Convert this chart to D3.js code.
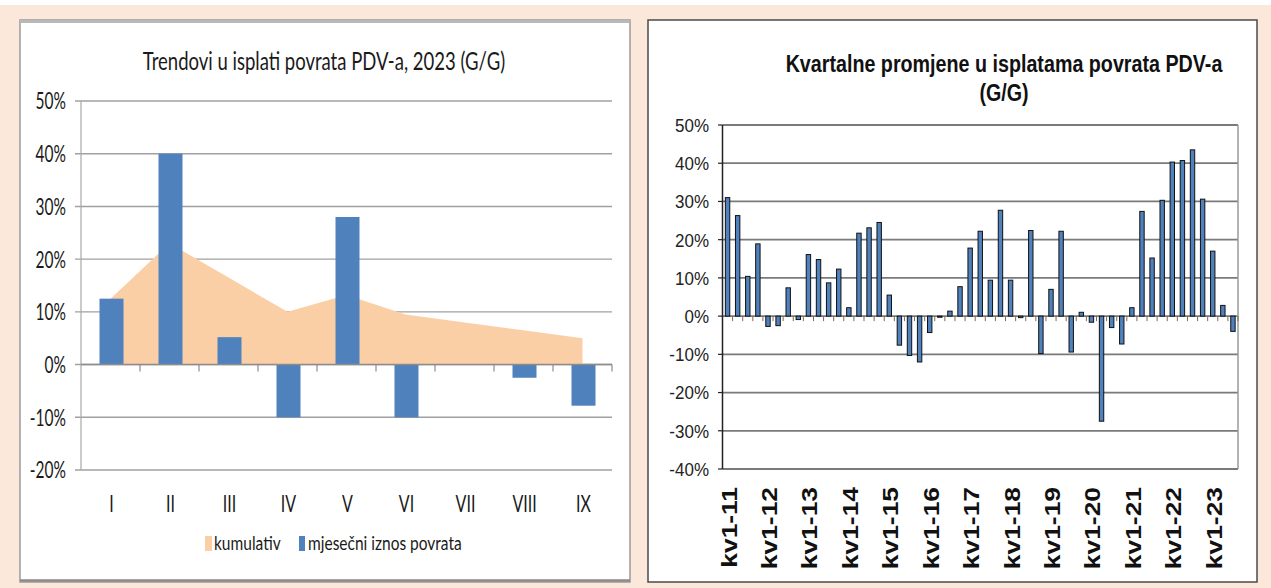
<!DOCTYPE html>
<html lang="hr">
<head>
<meta charset="UTF-8">
<title>Povrat PDV-a</title>
<style>
    body { margin: 0; background: #fce8da; }
    svg { display: block; }
</style>
</head>
<body>
<script src="https://d3js.org/d3.v7.min.js"></script>
<script>
    // lijevi grafikon: mjesecne promjene 2023 (G/G), u %
    const months = ["I", "II", "III", "IV", "V", "VI", "VII", "VIII", "IX"];
    const monthly = [12.5, 40, 5.2, -10, 28, -10, 0, -2.5, -7.8];
    const cumulative = [12.5, 23, 16.5, 10, 13.2, 9.5, 8, 6.5, 5];
    const leftTicks = [-20, -10, 0, 10, 20, 30, 40, 50];

    // desni grafikon: kvartalne promjene kv1-11 .. kv3-23, u %
    const yearLabels = ["kv1-11", "kv1-12", "kv1-13", "kv1-14", "kv1-15", "kv1-16", "kv1-17",
        "kv1-18", "kv1-19", "kv1-20", "kv1-21", "kv1-22", "kv1-23"];
    const quarterly = [31, 26.3, 10.4, 18.9, -2.7, -2.5, 7.4, -0.9, 16.1, 14.8, 8.7, 12.3,
        2.2, 21.7, 23.1, 24.5, 5.5, -7.6, -10.3, -12, -4.3, -0.3, 1.3, 7.7,
        17.8, 22.2, 9.4, 27.7, 9.4, -0.4, 22.4, -9.8, 7, 22.2, -9.4, 1,
        -1.6, -27.5, -3, -7.3, 2.2, 27.4, 15.2, 30.3, 40.3, 40.7, 43.5, 30.6,
        17, 2.8, -4];
    const rightTicks = [-40, -30, -20, -10, 0, 10, 20, 30, 40, 50];

    // kljucevi kvartala (kv1..kv4 po godini), samo koliko ima podataka
    let quarters = [];
    yearLabels.forEach(function (l) {
        let yy = l.slice(4);
        for (let q = 1; q <= 4; ++q) quarters.push("kv" + q + "-" + yy);
    });
    quarters = quarters.slice(0, quarterly.length);

    const W = 1271, H = 588;
    const blue = "#4f81bd", peach = "#fbcfa6";

    let svg = d3.select("body").append("svg")
        .attr("width", W)
        .attr("height", H);

    svg.append("rect").attr("width", W).attr("height", H).attr("fill", "#fce8da");
    svg.append("rect").attr("width", W).attr("height", 5).attr("fill", "#ffffff");

    // tekst koji je na slici malo razvucen po visini
    function txt(g, x, y, s, size, sy, opts) {
        opts = opts || {};
        return g.append("text")
            .attr("transform", "translate(" + x + "," + y + ") scale(1," + sy + ")")
            .attr("text-anchor", opts.anchor || "middle")
            .attr("dy", opts.dy || 0)
            .style("font-family", opts.font || "Lato, 'Open Sans', sans-serif")
            .style("font-size", size + "px")
            .style("font-weight", opts.weight || "normal")
            .attr("fill", opts.fill || "#1a1a1a")
            .text(s);
    }

    // ---------- lijevi panel ----------
    let left = svg.append("g");
    left.append("rect")
        .attr("x", 20).attr("y", 20).attr("width", 610).attr("height", 562)
        .attr("fill", "#ffffff")
        .attr("stroke", "#9a9a9a")
        .attr("stroke-width", 1.5);
    left.append("line").attr("x1", 20).attr("x2", 630).attr("y1", 21.5).attr("y2", 21.5)
        .attr("stroke", "#b8b8b8").attr("stroke-width", 3);
    left.append("line").attr("x1", 20).attr("x2", 630).attr("y1", 580.5).attr("y2", 580.5)
        .attr("stroke", "#8a8a8a").attr("stroke-width", 2.5);

    let x1 = d3.scaleBand().domain(months).range([81, 612]);
    let y1 = d3.scaleLinear().domain([-20, 50]).range([470, 101]);

    left.selectAll(".grid")
        .data(leftTicks)
        .enter()
        .append("line")
        .attr("x1", 75).attr("x2", 612)
        .attr("y1", d => y1(d)).attr("y2", d => y1(d))
        .attr("stroke", "#a0a0a0")
        .attr("stroke-width", 1.4);

    left.append("line")
        .attr("x1", 81).attr("x2", 81)
        .attr("y1", y1(50)).attr("y2", y1(-20))
        .attr("stroke", "#a8a8a8").attr("stroke-width", 1.2);

    let area = d3.area()
        .x(d => x1(d.m) + x1.bandwidth() / 2)
        .y0(y1(0))
        .y1(d => y1(d.v));
    left.append("path")
        .datum(months.map((m, i) => ({m: m, v: cumulative[i]})))
        .attr("d", area)
        .attr("fill", peach);

    left.selectAll(".bar")
        .data(months.map((m, i) => ({m: m, v: monthly[i]})).filter(d => d.v !== 0))
        .enter()
        .append("rect")
        .attr("x", d => x1(d.m) + x1.bandwidth() / 2 - 11)
        .attr("width", 24)
        .attr("y", d => y1(Math.max(0, d.v)))
        .attr("height", d => Math.abs(y1(d.v) - y1(0)))
        .attr("fill", blue);

    // os x na nuli s crticama
    left.append("line")
        .attr("x1", 81).attr("x2", 612)
        .attr("y1", y1(0)).attr("y2", y1(0))
        .attr("stroke", "#8c8c8c").attr("stroke-width", 1.4);
    left.selectAll(".tick")
        .data(months)
        .enter()
        .append("line")
        .attr("x1", d => x1(d) + x1.bandwidth()).attr("x2", d => x1(d) + x1.bandwidth())
        .attr("y1", y1(0)).attr("y2", y1(0) + 7)
        .attr("stroke", "#8c8c8c").attr("stroke-width", 1.2);

    leftTicks.forEach(function (t) {
        txt(left, 66, y1(t), t + "%", 15.5, 1.5, {anchor: "end", dy: "0.36em"});
    });
    months.forEach(function (m) {
        txt(left, x1(m) + x1.bandwidth() / 2 + 1, 512, m, 16, 1.5, {});
    });

    txt(left, 324, 70, "Trendovi u isplati povrata PDV-a, 2023 (G/G)", 18.5, 1.38, {});

    // legenda
    left.append("rect").attr("x", 205).attr("y", 536).attr("width", 7).attr("height", 15).attr("fill", peach);
    txt(left, 214, 550, "kumulativ", 15.5, 1.3, {anchor: "start"});
    left.append("rect").attr("x", 299).attr("y", 536).attr("width", 6).attr("height", 15).attr("fill", blue);
    txt(left, 308, 550, "mjesečni iznos povrata", 15.5, 1.3, {anchor: "start"});

    // ---------- desni panel ----------
    let right = svg.append("g");
    right.append("rect")
        .attr("x", 648).attr("y", 20).attr("width", 609).attr("height", 562)
        .attr("fill", "#ffffff")
        .attr("stroke", "#4a4a4a")
        .attr("stroke-width", 1.5);

    let x2 = d3.scaleBand().domain(quarters).range([722.5, 1238]);
    let y2 = d3.scaleLinear().domain([-40, 50]).range([469, 125]);
    const arial = "'Liberation Sans', Arial, sans-serif";

    right.selectAll(".grid")
        .data(rightTicks)
        .enter()
        .append("line")
        .attr("x1", 722.5).attr("x2", 1238)
        .attr("y1", d => y2(d)).attr("y2", d => y2(d))
        .attr("stroke", "#7a7a7a")
        .attr("stroke-width", 1.8);
    right.append("line")
        .attr("x1", 1238).attr("x2", 1238)
        .attr("y1", y2(50)).attr("y2", y2(-40))
        .attr("stroke", "#9a9a9a").attr("stroke-width", 1.5);
    right.append("line")
        .attr("x1", 722.5).attr("x2", 722.5)
        .attr("y1", y2(50)).attr("y2", y2(-40))
        .attr("stroke", "#222222").attr("stroke-width", 1.5);
    right.selectAll(".ytick")
        .data(rightTicks)
        .enter()
        .append("line")
        .attr("x1", 718).attr("x2", 722.5)
        .attr("y1", d => y2(d)).attr("y2", d => y2(d))
        .attr("stroke", "#222222").attr("stroke-width", 1.2);

    right.selectAll(".tick")
        .data(quarters)
        .enter()
        .append("line")
        .attr("x1", d => x2(d) + x2.bandwidth()).attr("x2", d => x2(d) + x2.bandwidth())
        .attr("y1", y2(0)).attr("y2", y2(0) + 5)
        .attr("stroke", "#7b6a58").attr("stroke-width", 1);

    right.selectAll(".bar")
        .data(quarters.map((q, i) => ({q: q, v: quarterly[i]})))
        .enter()
        .append("rect")
        .attr("x", d => x2(d.q) + x2.bandwidth() / 2 - 2.2)
        .attr("width", 4.4)
        .attr("y", d => y2(Math.max(0, d.v)))
        .attr("height", d => Math.abs(y2(d.v) - y2(0)))
        .attr("fill", blue)
        .attr("stroke", "#111111")
        .attr("stroke-width", 1);

    rightTicks.forEach(function (t) {
        txt(right, 709, y2(t), t + "%", 17, 1.12, {anchor: "end", dy: "0.36em", font: arial, fill: "#222"});
    });

    quarters.forEach(function (q, i) {
        if (i % 4 !== 0) return;
        right.append("text")
            .attr("transform", "translate(" + (x2(q) + x2.bandwidth() / 2 + 9) + ",487) rotate(-90) scale(1.2,1)")
            .attr("text-anchor", "end")
            .style("font-family", arial)
            .style("font-size", "22px")
            .style("font-weight", "bold")
            .attr("fill", "#111")
            .text(q);
    });

    txt(right, 1004, 72, "Kvartalne promjene u isplatama povrata PDV-a", 19.7, 1.22, {font: arial, weight: "bold", fill: "#111"});
    txt(right, 1004, 101, "(G/G)", 19.7, 1.22, {font: arial, weight: "bold", fill: "#111"});
</script>
</body>
</html>
